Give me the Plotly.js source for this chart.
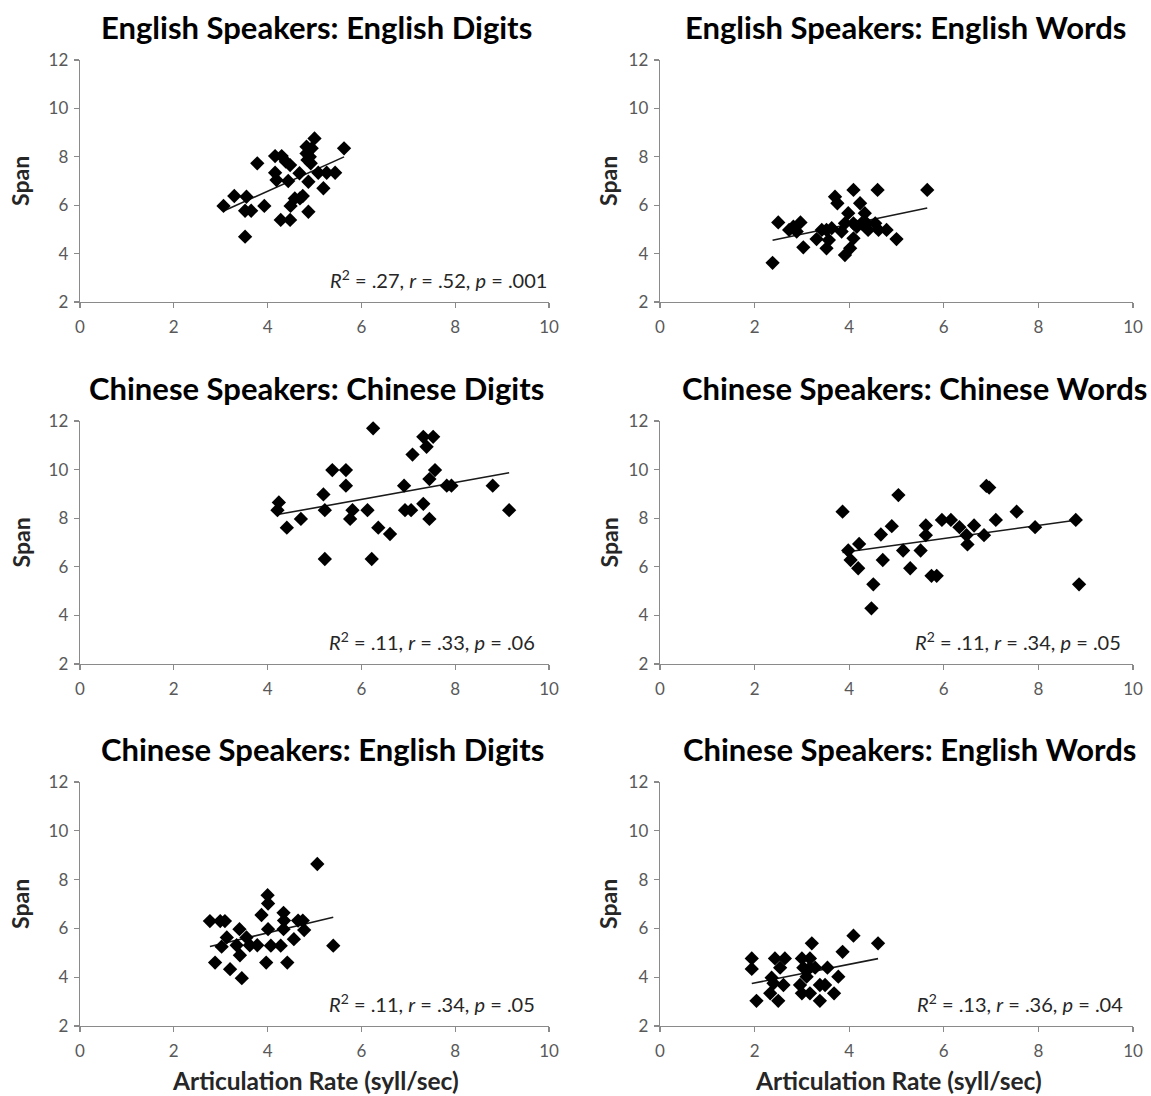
<!DOCTYPE html>
<html>
<head>
<meta charset="utf-8">
<script src="https://cdn.plot.ly/plotly-3.0.1.min.js"></script>
<style>html,body{margin:0;padding:0;background:#fff;}#chart{width:1151px;height:1096px;}</style>
</head>
<body>
<div id="chart"></div>
<script>
// ---- Data ----
const panelTitles = [
  "English Speakers: English Digits",
  "English Speakers: English Words",
  "Chinese Speakers: Chinese Digits",
  "Chinese Speakers: Chinese Words",
  "Chinese Speakers: English Digits",
  "Chinese Speakers: English Words"
];
const statTexts = [
  "<i>R</i><sup>2</sup> = .27, <i>r</i> = .52, <i>p</i> = .001",
  "<i>R</i><sup>2</sup> = .19, <i>r</i> = .43, <i>p</i> = .008",
  "<i>R</i><sup>2</sup> = .11, <i>r</i> = .33, <i>p</i> = .06",
  "<i>R</i><sup>2</sup> = .11, <i>r</i> = .34, <i>p</i> = .05",
  "<i>R</i><sup>2</sup> = .11, <i>r</i> = .34, <i>p</i> = .05",
  "<i>R</i><sup>2</sup> = .13, <i>r</i> = .36, <i>p</i> = .04"
];
const xTickVals = [0, 2, 4, 6, 8, 10];
const yTickVals = [2, 4, 6, 8, 10, 12];
const yAxisLabel = "Span";
const xAxisLabel = "Articulation Rate (syll/sec)";

const x1 = [3.06,3.29,3.55,3.52,3.65,3.52,3.78,3.93,4.16,4.30,4.39,4.48,4.16,4.19,4.44,4.68,4.28,4.48,4.49,4.58,4.75,4.69,4.87,4.87,4.83,4.83,5.00,4.94,4.90,4.92,5.08,5.26,5.44,5.19,5.63,4.85];
const y1 = [5.97,6.38,6.35,5.77,5.77,4.70,7.73,5.97,8.03,8.03,7.80,7.66,7.34,7.04,7.00,7.32,5.39,5.39,5.97,6.28,6.38,6.28,6.97,5.73,8.42,8.14,8.76,8.35,8.00,7.73,7.34,7.34,7.34,6.70,8.35,7.87];

const x2 = [2.38,2.50,2.73,2.82,2.97,2.89,3.03,3.31,3.42,3.52,3.63,3.52,3.57,3.70,3.75,3.91,4.02,4.09,3.98,3.91,3.84,4.09,4.16,4.09,4.23,4.33,4.26,4.37,4.40,4.55,4.60,4.62,4.79,5.00,5.65];
const y2 = [3.62,5.29,4.98,5.11,5.29,4.91,4.26,4.60,4.98,4.98,5.05,4.22,4.56,6.35,6.08,3.94,4.22,6.63,5.67,5.25,4.91,5.25,5.11,4.63,6.08,5.67,5.25,5.25,4.98,5.25,6.63,4.98,4.98,4.60,6.63];

const x3 = [4.24,4.21,4.41,4.71,5.19,5.22,5.22,5.38,5.67,5.67,5.81,5.76,6.13,6.25,6.22,6.36,6.61,6.91,6.93,7.06,7.09,7.32,7.53,7.39,7.57,7.45,7.32,7.45,7.82,7.92,8.80,9.15];
const y3 = [8.65,8.33,7.61,7.97,8.98,8.33,6.32,9.98,9.98,9.34,8.33,7.97,8.33,11.70,6.32,7.61,7.35,9.34,8.33,8.33,10.62,11.35,11.35,10.94,9.98,9.61,8.59,7.97,9.34,9.34,9.34,8.33];

const x4 = [3.86,3.98,4.03,4.21,4.19,4.51,4.47,4.67,4.71,4.90,5.04,5.14,5.29,5.51,5.62,5.62,5.74,5.85,5.96,6.15,6.33,6.48,6.50,6.64,6.85,6.90,6.96,7.10,7.54,7.93,8.79,8.86];
const y4 = [8.27,6.67,6.28,6.94,5.94,5.28,4.29,7.33,6.28,7.67,8.95,6.67,5.94,6.67,7.70,7.30,5.63,5.63,7.93,7.93,7.63,7.30,6.92,7.70,7.30,9.33,9.26,7.93,8.27,7.63,7.93,5.28];

const x5 = [5.06,2.77,2.99,3.09,2.88,3.20,3.45,3.13,3.02,3.40,3.34,3.41,3.55,3.62,3.78,3.97,3.87,4.00,4.01,4.01,4.07,4.28,4.34,4.35,4.34,4.42,4.56,4.65,4.75,4.78,5.40];
const y5 = [8.64,6.30,6.30,6.30,4.60,4.33,3.96,5.63,5.25,5.97,5.31,4.90,5.63,5.31,5.31,4.60,6.55,7.36,7.02,5.97,5.29,5.29,6.64,6.32,5.97,4.60,5.56,6.32,6.32,5.93,5.29];

const x6 = [1.94,1.94,2.04,2.43,2.64,2.54,2.36,2.40,2.33,2.50,2.61,3.21,3.00,3.17,3.03,3.17,3.28,3.10,2.96,3.00,3.17,3.38,3.49,3.38,3.54,3.77,3.68,3.86,4.09,4.61];
const y6 = [4.77,4.34,3.03,4.77,4.77,4.39,3.98,3.75,3.34,3.03,3.68,5.39,4.77,4.77,4.39,4.39,4.39,4.02,3.68,3.34,3.34,3.68,3.68,3.03,4.39,4.02,3.34,5.04,5.70,5.39];

const seriesX = [x1, x2, x3, x4, x5, x6];
const seriesY = [y1, y2, y3, y4, y5, y6];

// ---- Layout geometry (pixels) ----
const W = 1151, H = 1096;
const colPx = [[80, 549], [660, 1133]];
const rowPx = [[60, 302], [421, 664], [782, 1026]];
const statX = [10.0, 10.1, 9.74, 9.79, 9.74, 9.83];
const titleCx = [316, 905, 316, 914, 322, 909];
const titleCy = [27, 27, 388, 388, 749, 749];

function fit(xs, ys) {
  const n = xs.length;
  let sx = 0, sy = 0, sxx = 0, sxy = 0;
  for (let i = 0; i < n; i++) { sx += xs[i]; sy += ys[i]; sxx += xs[i]*xs[i]; sxy += xs[i]*ys[i]; }
  const b = (n*sxy - sx*sy) / (n*sxx - sx*sx);
  const a = (sy - b*sx) / n;
  const lo = Math.min(...xs), hi = Math.max(...xs);
  return {x: [lo, hi], y: [a + b*lo, a + b*hi]};
}

const font = "Lato, 'Open Sans', sans-serif";
const traces = [];
const layout = {
  width: W, height: H,
  margin: {l: 0, r: 0, t: 0, b: 0},
  paper_bgcolor: "#fff", plot_bgcolor: "#fff",
  showlegend: false,
  font: {family: font, color: "#595959"},
  annotations: []
};

for (let k = 0; k < 6; k++) {
  const r = Math.floor(k / 2), c = k % 2;
  const sfx = k === 0 ? "" : String(k + 1);
  const xa = "x" + sfx, ya = "y" + sfx;
  const xd = [colPx[c][0] / W, colPx[c][1] / W];
  const yd = [1 - rowPx[r][1] / H, 1 - rowPx[r][0] / H];
  const axCommon = {
    showline: true, linecolor: "#8a8a8a", linewidth: 1.3,
    ticks: "outside", ticklen: 5, tickcolor: "#8a8a8a", tickwidth: 1.3,
    showgrid: false, zeroline: false, fixedrange: true,
    tickfont: {family: font, size: 17, color: "#595959"}
  };
  layout["xaxis" + sfx] = Object.assign({}, axCommon, {
    domain: xd, range: [0, 10], tickvals: xTickVals, anchor: ya, ticklabelstandoff: 4
  });
  layout["yaxis" + sfx] = Object.assign({}, axCommon, {
    domain: yd, range: [2, 12], tickvals: yTickVals, anchor: xa, ticklabelstandoff: 2
  });

  const f = fit(seriesX[k], seriesY[k]);
  traces.push({
    x: f.x, y: f.y, xaxis: xa, yaxis: ya, type: "scatter", mode: "lines",
    line: {color: "#1a1a1a", width: 1.6}, hoverinfo: "skip"
  });
  traces.push({
    x: seriesX[k], y: seriesY[k], xaxis: xa, yaxis: ya, type: "scatter", mode: "markers",
    marker: {symbol: "diamond", size: 11, color: "#000"}
  });

  layout.annotations.push({
    text: "<b>" + panelTitles[k] + "</b>", xref: "paper", yref: "paper",
    x: titleCx[k] / W, y: 1 - titleCy[k] / H, xanchor: "center", yanchor: "middle",
    showarrow: false, font: {family: font, size: 31, color: "#000"}
  });
  layout.annotations.push({
    text: statTexts[k], xref: xa, yref: ya, x: statX[k], y: 2.95,
    xanchor: "right", yanchor: "middle", showarrow: false,
    font: {family: font, size: 20, color: "#262626"}
  });
  layout.annotations.push({
    text: "<b>" + yAxisLabel + "</b>", xref: "paper", yref: "paper",
    x: (c === 0 ? 20 : 608) / W, y: 1 - ((rowPx[r][0] + rowPx[r][1]) / 2) / H,
    xanchor: "center", yanchor: "middle", textangle: -90, showarrow: false,
    font: {family: font, size: 23, color: "#262626"}
  });
  if (r === 2) {
    layout.annotations.push({
      text: "<b>" + xAxisLabel + "</b>", xref: "paper", yref: "paper",
      x: (c === 0 ? 315 : 898) / W, y: 1 - 1080 / H,
      xanchor: "center", yanchor: "middle", showarrow: false,
      font: {family: font, size: 24.5, color: "#262626"}
    });
  }
}

Plotly.newPlot("chart", traces, layout, {displayModeBar: false, staticPlot: true});
</script>
</body>
</html>
